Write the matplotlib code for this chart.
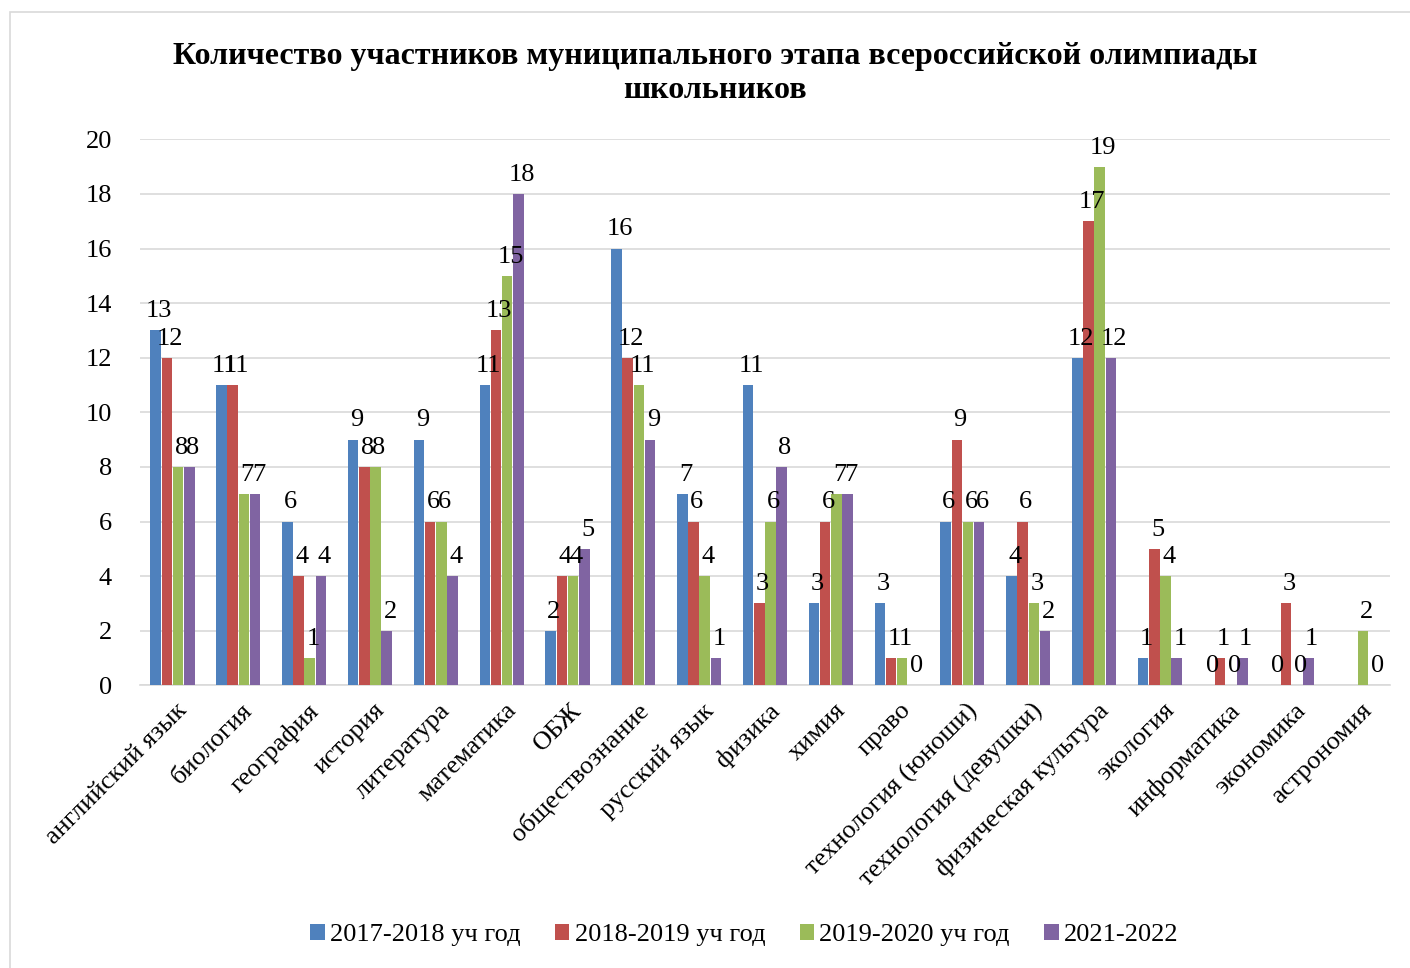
import numpy as np
import matplotlib.pyplot as plt
from matplotlib.patches import Rectangle

plt.rcParams['font.family'] = ['Liberation Serif', 'DejaVu Serif']

categories = ['английский язык', 'биология', 'география', 'история', 'литература',
              'математика', 'ОБЖ', 'обществознание', 'русский язык', 'физика',
              'химия', 'право', 'технология (юноши)', 'технология (девушки)',
              'физическая культура', 'экология', 'информатика', 'экономика', 'астрономия']

y2017 = [13, 11, 6, 9, 9, 11, 2, 16, 7, 11, 3, 3, 6, 4, 12, 1, 0, 0, np.nan]
y2018 = [12, 11, 4, 8, 6, 13, 4, 12, 6, 3, 6, 1, 9, 6, 17, 5, 1, 3, np.nan]
y2019 = [8, 7, 1, 8, 6, 15, 4, 11, 4, 6, 7, 1, 6, 3, 19, 4, 0, 0, 2]
y2021 = [8, 7, 4, 2, 4, 18, 5, 9, 1, 8, 7, 0, 6, 2, 12, 1, 1, 1, 0]

series = [('2017-2018 уч год', y2017, '#4f81bd'),
          ('2018-2019 уч год', y2018, '#c0504d'),
          ('2019-2020 уч год', y2019, '#9bbb59'),
          ('2021-2022', y2021, '#8064a2')]

fig = plt.figure(figsize=(14.1, 9.68), dpi=100)
fig.patches.append(Rectangle((10/1410, -0.01), 1.0, 1 - 12/968 + 0.01,
                             transform=fig.transFigure, fill=False,
                             edgecolor='#d9d9d9', linewidth=1.2))
ax = fig.add_axes([0.099, 0.292, 0.887, 0.564])

x = np.arange(len(categories))
w = 0.16
for i, (name, vals, col) in enumerate(series):
    pos = x + (i - 1.5) * (w + 0.01)
    vals = np.array(vals, dtype=float)
    ax.bar(pos, vals, width=w, color=col, label=name, zorder=3)
    for p, v in zip(pos, vals):
        if not np.isnan(v):
            ax.text(p + 0.05, v + 0.3, '%d' % v, ha='center', va='bottom',
                    fontsize=19, zorder=4)

ax.set_ylim(0, 20)
ax.set_xlim(-0.5, len(categories) - 0.5)
ax.set_yticks(range(0, 21, 2))
ax.tick_params(axis='y', labelsize=19, length=0, pad=20)
ax.tick_params(axis='x', length=0, pad=10)
ax.set_xticks(x + 0.05)
ax.set_xticklabels(categories, rotation=45, ha='right', va='top',
                   rotation_mode='anchor', fontsize=19)
ax.grid(axis='y', color='#d9d9d9', linewidth=1.2, zorder=0)
for s in ['left', 'right', 'top']:
    ax.spines[s].set_visible(False)
ax.spines['bottom'].set_color('#d9d9d9')
ax.spines['bottom'].set_linewidth(1.2)

fig.text(0.507, 0.924, 'Количество участников муниципального этапа всероссийской олимпиады\nшкольников',
         ha='center', va='center', fontsize=23, fontweight='bold', linespacing=1.2)

fig.legend(loc='center', bbox_to_anchor=(0.528, 0.034), ncol=4, frameon=False,
           fontsize=19, handlelength=0.55, handleheight=0.55, handletextpad=0.2,
           columnspacing=1.3)

fig.savefig('out.png', dpi=100)
